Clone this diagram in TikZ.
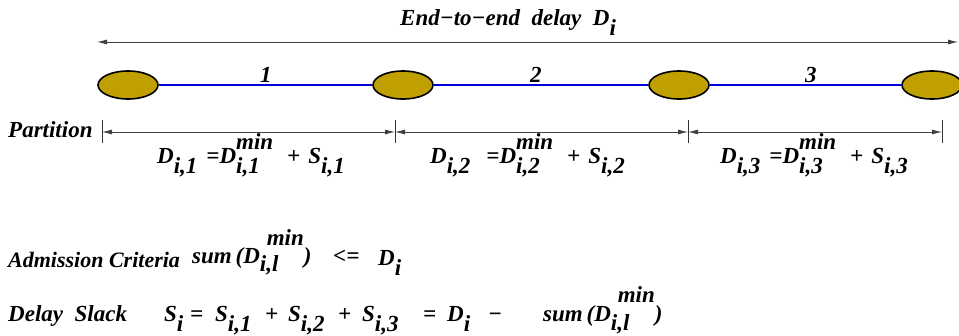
\documentclass[tikz,border=0pt]{standalone}
\usepackage{fontspec}
\setmainfont{Liberation Serif}
\usetikzlibrary{arrows.meta,shapes.geometric}
\definecolor{routerfill}{RGB}{192,160,0}
\definecolor{linkblue}{RGB}{0,0,220}
\newcommand\dn[2][0.45em]{\raisebox{-#1}{#2}}
% #1 sup, #2 sub, #3 sup offset, #4 lower, #5 raise
\newcommand\supsb[5]{\rlap{\raisebox{-#4}{#2}}\hspace{#3}\raisebox{#5}{#1}}
\newcommand\partf[4]{D\dn{#1}\hspace{#2}=D\supsb{min}{#1}{0pt}{0.45em}{0.57em}\hspace{#3}+\hspace{#4}S\dn{#1}}
\begin{document}
\begin{tikzpicture}[x=1pt,y=-1pt,
  txt/.style={font=\fontsize{23}{27}\selectfont\bfseries\itshape, inner sep=0pt, anchor=base west},
  router/.style={ellipse, draw=black, line width=1.6pt, fill=routerfill, minimum width=60pt, minimum height=28pt, inner sep=0pt},
  link/.style={draw=linkblue, line width=1.6pt},
  dim/.style={draw=black!75, line width=0.8pt, {Latex[length=10pt,width=5pt]}-{Latex[length=10pt,width=5pt]}},
  bar/.style={draw=black!80, line width=0.8pt}]
\useasboundingbox (0,0) rectangle (959,335);

% title and end-to-end arrow
\node[txt] (title) at (400,25) {End−to−end\ \ delay\ \ D\dn{i}};
\coordinate (ta) at (97,42);
\coordinate (tb) at (958,42);
\draw[dim] (ta) -- (tb);

% routers and links
\node[router] (r1) at (128,85) {};
\node[router] (r2) at (403,85) {};
\node[router] (r3) at (679,85) {};
\node[router] (r4) at (932,85) {};
\draw[link] (r1) -- (r2);
\draw[link] (r2) -- (r3);
\draw[link] (r3) -- (r4);
\node[txt] (l1) at (260,82) {1};
\node[txt] (l2) at (530,82) {2};
\node[txt] (l3) at (805,82) {3};

% partition
\node[txt] (part) at (8,137) {Partition};
\coordinate (b0) at (102,132);
\coordinate (b1) at (395,132);
\coordinate (b2) at (688,132);
\coordinate (b3) at (942,132);
\foreach \b in {b0,b1,b2,b3}{\draw[bar] ([yshift=12pt]\b) -- ([yshift=-11pt]\b);}
\draw[dim] (b0) -- (b1);
\draw[dim] (b1) -- (b2);
\draw[dim] (b2) -- (b3);

\node[txt] (f1) at (157,163) {\partf{i,1}{9pt}{14pt}{8pt}};
\node[txt] (f2) at (430,163) {\partf{i,2}{16pt}{14pt}{8pt}};
\node[txt] (f3) at (720,163) {\partf{i,3}{9pt}{14pt}{8pt}};

% admission criteria
\node[txt, font=\fontsize{22}{26}\selectfont\bfseries\itshape] (adm) at (8,267) {Admission Criteria};
\node[txt] (sum1) at (192,263) {sum\,(D\supsb{min}{i,l}{0.3em}{0.35em}{0.78em})};
\node[txt] (le) at (333,263) {<=};
\node[txt] (di) at (378,265) {D\dn{i}};

% delay slack
\node[txt] (ds) at (8,321) {Delay\ \ Slack};
\node[txt] (s0) at (164,321) {S\dn{i}};
\node[txt] (eq1) at (190,321) {=};
\node[txt] (s1) at (215,321) {S\dn{i,1}};
\node[txt] (p1) at (265,321) {+};
\node[txt] (s2) at (288,321) {S\dn{i,2}};
\node[txt] (p2) at (338,321) {+};
\node[txt] (s3) at (362,321) {S\dn{i,3}};
\node[txt] (eq2) at (423,321) {=};
\node[txt] (d2) at (447,321) {D\dn{i}};
\node[txt] (mn) at (488,321) {−};
\node[txt] (sum2) at (543,321) {sum\,(D\supsb{min}{i,l}{0.3em}{0.4em}{0.8em})};
\end{tikzpicture}
\end{document}
